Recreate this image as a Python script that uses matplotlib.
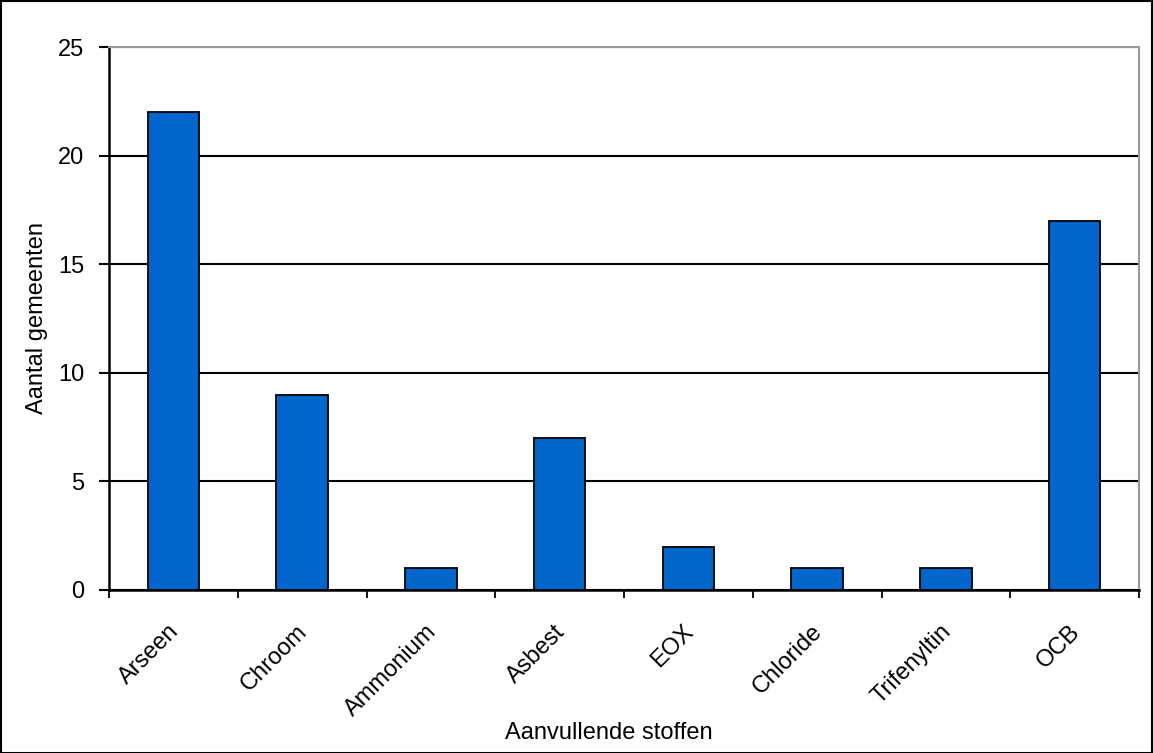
import numpy as np
import matplotlib
matplotlib.use('Agg')
import matplotlib.pyplot as plt
import matplotlib.transforms as mtransforms
from matplotlib.patches import Rectangle

plt.rcParams['font.family'] = ['Liberation Sans', 'DejaVu Sans']

categories = ['Arseen', 'Chroom', 'Ammonium', 'Asbest', 'EOX', 'Chloride', 'Trifenyltin', 'OCB']
values = [22, 9, 1, 7, 2, 1, 1, 17]
yticks = [0, 5, 10, 15, 20, 25]

fig = plt.figure(figsize=(11.53, 7.53), dpi=100)
ax = fig.add_axes([109 / 1153, 1 - 590 / 753, 1030 / 1153, 543 / 753])

x = np.arange(len(categories))
ax.bar(x, values, width=0.4, color='#0066CC', edgecolor='black', linewidth=1.3, zorder=3)

ax.set_xlim(-0.5, len(categories) - 0.5)
ax.set_ylim(0, 25)
ax.set_yticks(yticks)
ax.yaxis.grid(True, color='black', linewidth=1.5, zorder=0)
ax.set_axisbelow(True)

# category boundary ticks
ax.set_xticks(np.arange(len(categories) + 1) - 0.5)
ax.set_xticklabels([])
ax.set_xticks(x, minor=True)
ax.set_xticklabels(categories, minor=True, rotation=45, ha='right',
                   rotation_mode='anchor', fontsize=17)
ax.tick_params(axis='x', which='minor', length=0, pad=22)
ax.tick_params(axis='x', which='major', length=6, width=1.3, direction='out')
ax.tick_params(axis='y', length=7, width=1.5, direction='out', labelsize=17, pad=11)

# nudge rotated labels a little to the left
shift = mtransforms.ScaledTranslation(-6 / 100, 0, fig.dpi_scale_trans)
for lab in ax.get_xticklabels(minor=True):
    lab.set_transform(lab.get_transform() + shift)

for s in ['left', 'bottom']:
    ax.spines[s].set_linewidth(1.8)
    ax.spines[s].set_color('black')
for s in ['top', 'right']:
    ax.spines[s].set_linewidth(1.5)
    ax.spines[s].set_color('#999999')

ax.set_ylabel('Aantal gemeenten', fontsize=17)
ax.yaxis.label.set_va('center')
ax.yaxis.set_label_coords((37 - 109) / 1030, 0.5)
ax.set_xlabel('Aanvullende stoffen', fontsize=17)
ax.xaxis.label.set_va('center')
ax.xaxis.set_label_coords((609 - 109) / 1030, -(733 - 590) / 543)

fig.patches.append(Rectangle((0.5 / 1153, 0.5 / 753), 1 - 1.5 / 1153, 1 - 1.5 / 753,
                             transform=fig.transFigure, fill=False,
                             edgecolor='black', linewidth=1.5))

fig.savefig('out.png', dpi=100)
